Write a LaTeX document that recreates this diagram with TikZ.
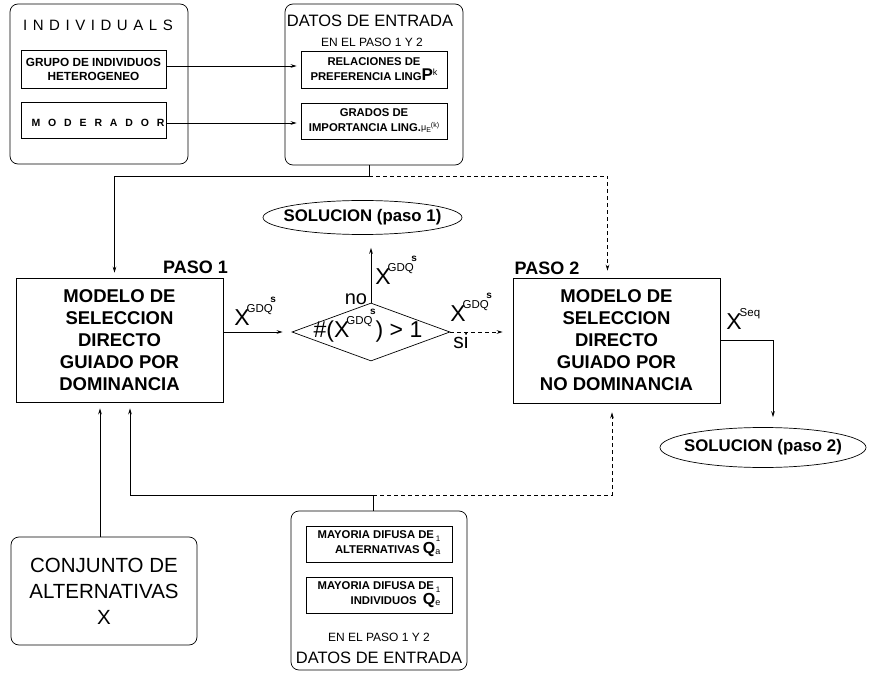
\documentclass[tikz,border=0pt]{standalone}
\usepackage{fontspec}
\setmainfont{Liberation Sans}
\usetikzlibrary{arrows.meta,shapes.geometric}
\newcommand{\xgdq}{{\fontsize{23}{23}\selectfont X}\kern-3pt\raisebox{13pt}{\fontsize{11.5}{11.5}\selectfont GDQ}\kern-2.5pt\raisebox{23pt}{\bfseries\fontsize{10}{10}\selectfont s}}
\newcommand{\xseq}{{\fontsize{23}{23}\selectfont X}\kern-2pt\raisebox{13pt}{\fontsize{11.5}{11.5}\selectfont Seq}}
\begin{document}
\begin{tikzpicture}[x=1pt,y=-1pt,line width=0.7pt,
  arr/.style={-{Stealth[length=6pt,width=3.6pt]}},
  rbox/.style={draw,rounded corners=8pt,inner sep=0pt},
  box/.style={draw,inner sep=0pt},
  lab/.style={inner sep=0pt},
  dsh/.style={dash pattern=on 4pt off 3pt},
  big/.style={font=\bfseries\fontsize{18.5}{22}\selectfont,align=center},
  small/.style={font=\bfseries\fontsize{11.3}{15}\selectfont,align=center}]
\path[use as bounding box] (0,0) rectangle (871,674);

% INDIVIDUALS
\node[rbox,minimum width=178pt,minimum height=160pt] (indiv) at (99,84) {};
\node[lab,font=\fontsize{15}{15}\selectfont\addfontfeature{LetterSpace=37}] (indivt) at (98,25) {INDIVIDUALS};
\node[box,minimum width=145pt,minimum height=38pt,align=center,font=\bfseries\fontsize{11.8}{14}\selectfont] (grupo) at (93.5,69) {GRUPO DE INDIVIDUOS\\HETEROGENEO};
\node[box,minimum width=145pt,minimum height=36pt] (moder) at (93.5,120) {};
\node[lab,font=\bfseries\fontsize{10.5}{12}\selectfont\addfontfeature{LetterSpace=75}] (modert) at (98,123) {MODERADOR};

% DATOS DE ENTRADA (top)
\node[rbox,minimum width=178pt,minimum height=161pt] (datos1) at (374,84.5) {};
\node[lab,font=\fontsize{16.5}{16.5}\selectfont] (dt1) at (370,21) {DATOS DE ENTRADA};
\node[lab,font=\fontsize{12}{12}\selectfont] (en1) at (372,42.5) {EN EL PASO 1 Y 2};
\node[box,minimum width=146pt,minimum height=37pt,small] (rel) at (374,69.5) {RELACIONES DE\\PREFERENCIA LING{\fontsize{17}{17}\selectfont P}\raisebox{5pt}{\mdseries\fontsize{9}{9}\selectfont k}};
\node[box,minimum width=146pt,minimum height=36pt,small] (grad) at (374,121) {GRADOS DE\\IMPORTANCIA LING.\raisebox{1pt}{\mdseries\fontsize{9}{9}\selectfont μ}\raisebox{-1pt}{\mdseries\fontsize{7}{7}\selectfont E}\raisebox{4pt}{\mdseries\fontsize{7}{7}\selectfont(k)}};

\draw[arr,shorten >=4pt] ([yshift=3pt]grupo.east) -- ([yshift=3pt]grupo.east -| rel.west);
\draw[arr,shorten >=4pt] ([yshift=-3pt]moder.east) -- ([yshift=-3pt]moder.east -| grad.west);

% Step boxes
\node[box,minimum width=207pt,minimum height=124pt,big] (m1) at (119.5,340) {MODELO DE\\SELECCION\\DIRECTO\\GUIADO POR\\DOMINANCIA};
\node[box,minimum width=207pt,minimum height=125pt,big] (m2) at (616.5,340.5) {MODELO DE\\SELECCION\\DIRECTO\\GUIADO POR\\NO DOMINANCIA};
\node[lab,font=\bfseries\fontsize{18}{18}\selectfont] (p1) at (195.5,267.5) {PASO 1};
\node[lab,font=\bfseries\fontsize{18}{18}\selectfont] (p2) at (547,268) {PASO 2};

% decision
\node[diamond,draw,minimum width=158pt,minimum height=58pt,inner sep=0pt] (d) at (371,332) {};
\node[lab,anchor=base,font=\fontsize{23}{23}\selectfont] (dt) at (368,337) {\#(\xgdq) > 1};
\node[lab,anchor=base,font=\fontsize{20}{20}\selectfont] (no) at (356,304) {no};
\node[lab,anchor=base,font=\fontsize{21}{21}\selectfont] (si) at (461,348) {si};

% solutions
\node[draw,ellipse,minimum width=199pt,minimum height=34pt,inner sep=0pt] (sol1) at (362.5,217.5) {};
\node[lab,font=\bfseries\fontsize{16.8}{16.8}\selectfont] (sol1t) at (sol1) {SOLUCION (paso 1)};
\node[draw,ellipse,minimum width=206pt,minimum height=40pt,inner sep=0pt] (sol2) at (763,447.5) {};
\node[lab,font=\bfseries\fontsize{16.8}{16.8}\selectfont] (sol2t) at (sol2) {SOLUCION (paso 2)};

% labels
\node[lab,anchor=base west] (l1) at (234,325) {\xgdq};
\node[lab,anchor=base west] (l2) at (375,284) {\xgdq};
\node[lab,anchor=base west] (l3) at (450,321) {\xgdq};
\node[lab,anchor=base west] (l4) at (726,329) {\xseq};

% bottom inputs
\node[rbox,minimum width=176pt,minimum height=159pt] (datos2) at (379,590.5) {};
\node[box,minimum width=146pt,minimum height=36pt,font=\bfseries\fontsize{11.3}{15}\selectfont,align=right] (maya) at (379,544) {MAYORIA DIFUSA DE\,\raisebox{-3pt}{\mdseries\fontsize{8}{8}\selectfont 1}\\ALTERNATIVAS {\fontsize{16}{16}\selectfont Q}\raisebox{-1pt}{\mdseries\fontsize{9}{9}\selectfont a}};
\node[box,minimum width=146pt,minimum height=36pt,font=\bfseries\fontsize{11.3}{15}\selectfont,align=right] (mayi) at (379,595) {MAYORIA DIFUSA DE\,\raisebox{-3pt}{\mdseries\fontsize{8}{8}\selectfont 1}\\INDIVIDUOS\ \ {\fontsize{16}{16}\selectfont Q}\raisebox{-1pt}{\mdseries\fontsize{9}{9}\selectfont e}};
\node[lab,font=\fontsize{12}{12}\selectfont] (en2) at (379,637) {EN EL PASO 1 Y 2};
\node[lab,font=\fontsize{16.5}{16.5}\selectfont] (dt2) at (379,658) {DATOS DE ENTRADA};

\node[rbox,minimum width=186pt,minimum height=108pt,align=center,font=\fontsize{20.5}{26}\selectfont] (conj) at (104,591) {CONJUNTO DE\\ALTERNATIVAS\\X};

% connectors top
\coordinate (j1) at (369,176);
\draw (j1 |- datos1.south) -- (j1);
\draw[arr,shorten >=5pt] (j1) -| ([xshift=-5pt]m1.north);
\draw[arr,dsh,shorten >=7pt] (j1) -| ([xshift=-9pt]m2.north);

% decision connectors
\draw[arr,shorten >=9pt] (d.west -| m1.east) -- (d.west);
\draw[arr,shorten >=13pt] (d.north) -- (d.north |- sol1.south);
\draw[arr,dsh,shorten >=10pt] (d.east) -- (d.east -| m2.west);
\draw[arr,shorten >=10pt] (m2.east) -| ([xshift=10pt]sol2.north);

% connectors bottom
\coordinate (j2) at (373,495);
\draw (datos2.north -| j2) -- (j2);
\draw[arr,shorten >=6pt] (j2) -| ([xshift=10.5pt]m1.south);
\draw[arr,dsh,shorten >=9pt] (j2) -| ([xshift=-4.5pt]m2.south);
\draw[arr,shorten >=6pt] ([xshift=-4pt]conj.north) -- ([xshift=-4pt]conj.north |- m1.south);
\end{tikzpicture}
\end{document}
